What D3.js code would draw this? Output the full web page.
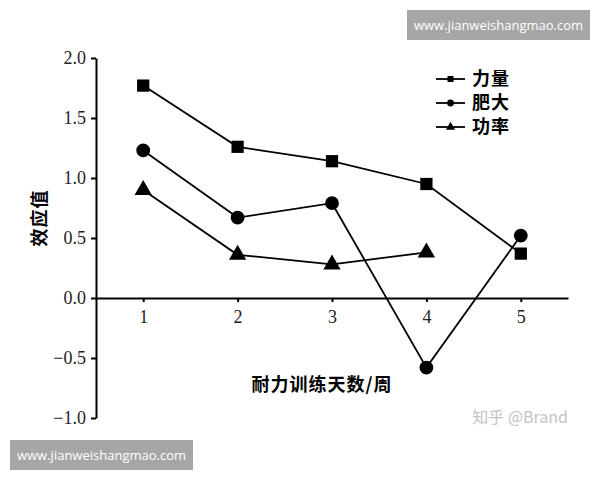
<!DOCTYPE html>
<html>
<head>
<meta charset="utf-8">
<script src="https://cdn.jsdelivr.net/npm/d3@7"></script>
<style>
  body { margin: 0; background: #fff; }
  svg { display: block; }
</style>
</head>
<body>
<div id="chart"></div>
<script>
// données
const days = [1, 2, 3, 4, 5];
const liliang = [1.77, 1.26, 1.14, 0.95, 0.37];   // 力量
const feida = [1.23, 0.67, 0.79, -0.58, 0.52];    // 肥大
const gonglv = [0.90, 0.36, 0.28, 0.38];          // 功率
const yTicks = [-1.0, -0.5, 0.0, 0.5, 1.0, 1.5, 2.0];
const seriesNames = ["力量", "肥大", "功率"];

const width = 600, height = 480;

const svg = d3
  .select("#chart")
  .append("svg")
  .attr("width", width)
  .attr("height", height);

const x = d3.scaleLinear().domain([0.5, 5.5]).range([96, 568]);
const y = d3.scaleLinear().domain([-1, 2]).range([418, 58]);

const serif = "'Liberation Serif', 'DejaVu Serif', serif";
const cjk = "'Noto Sans CJK SC', sans-serif";

// axe y
const yAxis = svg.append("g")
  .attr("transform", "translate(" + x(0.5) + ",0)")
  .call(d3.axisLeft(y).tickValues(yTicks).tickSize(5).tickSizeOuter(0)
    .tickFormat(d => d3.format(".1f")(d).replace("-", "−")));
yAxis.select(".domain").attr("stroke", "#000").attr("stroke-width", 2);
yAxis.selectAll(".tick line").attr("stroke-width", 2);
yAxis.selectAll("text")
  .attr("x", -10)
  .style("font-family", serif)
  .style("font-size", "18px")
  .attr("fill", "#222");

// axe x (sur y = 0)
const xAxis = svg.append("g")
  .attr("transform", "translate(0," + y(0) + ")")
  .call(d3.axisBottom(x).tickValues(days).tickSize(4).tickSizeOuter(0)
    .tickFormat(d3.format("d")));
xAxis.select(".domain").attr("stroke", "#000").attr("stroke-width", 2);
xAxis.selectAll(".tick line").attr("stroke-width", 2);
xAxis.selectAll("text")
  .attr("y", 12)
  .style("font-family", serif)
  .style("font-size", "18px")
  .attr("fill", "#222");

// séries
const series = [
  { name: seriesNames[0], values: liliang, shape: d3.symbolSquare, size: 150 },
  { name: seriesNames[1], values: feida, shape: d3.symbolCircle, size: 150 },
  { name: seriesNames[2], values: gonglv, shape: d3.symbolTriangle, size: 130 }
];

const line = d3.line()
  .x((d, i) => x(days[i]))
  .y(d => y(d));

series.forEach(s => {
  svg.append("path")
    .datum(s.values)
    .attr("d", line)
    .attr("fill", "none")
    .attr("stroke", "#000")
    .attr("stroke-width", 1.8);

  svg.append("g")
    .selectAll("path")
    .data(s.values)
    .enter()
    .append("path")
    .attr("transform", (d, i) => "translate(" + x(days[i]) + "," + y(d) + ")")
    .attr("d", d3.symbol().type(s.shape).size(s.size))
    .attr("fill", "#000");
});

// légende
const legend = svg.append("g").attr("transform", "translate(436,79)");
series.forEach((s, i) => {
  const g = legend.append("g").attr("transform", "translate(0," + i * 24 + ")");
  g.append("line")
    .attr("x1", 0).attr("x2", 29)
    .attr("stroke", "#000").attr("stroke-width", 1.8);
  g.append("path")
    .attr("transform", "translate(14.5,0)")
    .attr("d", d3.symbol().type(s.shape).size(36))
    .attr("fill", "#000");
  g.append("text")
    .attr("x", 36)
    .attr("dy", "0.36em")
    .style("font-family", cjk)
    .style("font-size", "18px")
    .style("font-weight", "bold")
    .attr("letter-spacing", 1)
    .text(s.name);
});

// titres des axes
svg.append("text")
  .attr("transform", "translate(40,218) rotate(-90)")
  .attr("text-anchor", "middle")
  .attr("dy", "0.36em")
  .style("font-family", cjk)
  .style("font-size", "18px")
  .style("font-weight", "bold")
  .attr("letter-spacing", 1)
  .text("效应值");

svg.append("text")
  .attr("x", 322)
  .attr("y", 385)
  .attr("text-anchor", "middle")
  .attr("dy", "0.36em")
  .style("font-family", cjk)
  .style("font-size", "18px")
  .style("font-weight", "bold")
  .attr("letter-spacing", 1)
  .text("耐力训练天数/周");

// filigranes
function watermark(x0, y0) {
  svg.append("rect")
    .attr("x", x0).attr("y", y0)
    .attr("width", 183).attr("height", 30)
    .attr("fill", "#a6a6a6");
  svg.append("text")
    .attr("x", x0 + 91.5).attr("y", y0 + 15)
    .attr("text-anchor", "middle")
    .attr("dy", "0.36em")
    .style("font-family", "'Open Sans', 'DejaVu Sans', sans-serif")
    .style("font-size", "13px")
    .attr("fill", "#fff")
    .text("www.jianweishangmao.com");
}
watermark(407, 10);
watermark(10, 440);

svg.append("text")
  .attr("x", 568)
  .attr("y", 417)
  .attr("text-anchor", "end")
  .attr("dy", "0.36em")
  .style("font-family", cjk)
  .style("font-size", "16px")
  .attr("fill", "#c4c4c4")
  .text("知乎 @Brand");
</script>
</body>
</html>
